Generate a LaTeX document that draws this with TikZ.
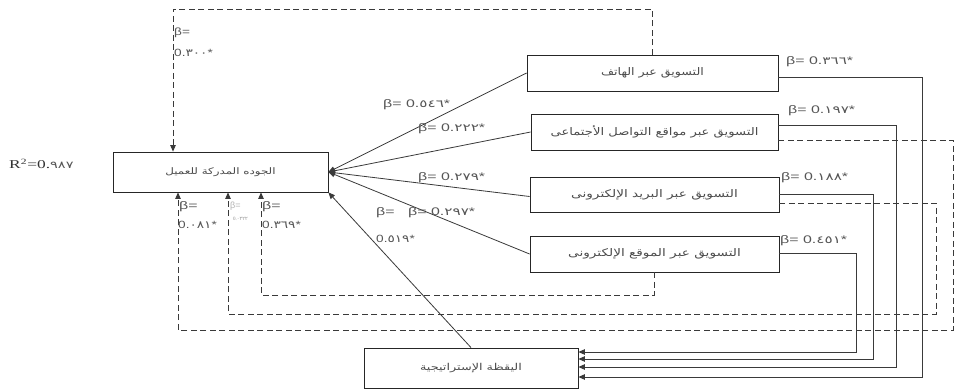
\documentclass[tikz,border=0pt]{standalone}
\usepackage{graphicx}
\usepackage{fontspec}
\setmainfont{Liberation Serif}
\setsansfont{Liberation Sans}
\newfontfamily\arabicfont[Script=Arabic]{DejaVu Sans}
\usetikzlibrary{arrows.meta}
\TeXXeTstate=1
\definecolor{ln}{HTML}{3A3A3A}
\definecolor{lb}{HTML}{555555}
% Arabic box text: size, horizontal stretch, text (text carries its own \beginR ... \endR)
\newcommand{\artxt}[3]{\scalebox{#2}[1]{\arabicfont\fontsize{#1}{#1}\selectfont #3}}
% Arabic-Indic digits inside labels
\newcommand{\adig}[1]{{\arabicfont\fontsize{10.5}{11}\selectfont #1}}
% beta labels, stretched
\newcommand{\blab}[1]{\scalebox{1.45}[1]{\sffamily\fontsize{11}{12}\selectfont #1}}
\newcommand{\slabt}[1]{\scalebox{1.3}[1]{\sffamily\fontsize{10.5}{11}\selectfont #1}}
\begin{document}
\begin{tikzpicture}[x=1pt,y=-1pt,
  box/.style={draw=black!85, line width=0.8pt, inner sep=0pt, fill=white, text=black!70},
  sol/.style={draw=ln, line width=0.8pt},
  solar/.style={sol, -{Triangle[length=6.5pt,width=5.5pt]}},
  dsh/.style={draw=ln, line width=0.8pt, dash pattern=on 6pt off 3.5pt, -{Triangle[length=6.5pt,width=5.5pt]}},
  lab/.style={anchor=west, inner sep=0pt, text=lb}]
\useasboundingbox (0,0) rectangle (954,391);
\fill[white] (0,0) rectangle (954,391);

% boxes
\node[box, minimum width=215pt, minimum height=40pt] (main) at (220.5,172) {\artxt{9}{1.32}{\beginR الجوده المدركة للعميل\endR}};
\node[box, minimum width=251pt, minimum height=36pt] (phone) at (652.5,73) {\artxt{10.5}{1.2}{\beginR التسويق عبر الهاتف\endR}};
\node[box, minimum width=247pt, minimum height=36pt] (social) at (654.5,132) {\artxt{10.5}{1.25}{\beginR التسويق عبر مواقع التواصل الأجتماعى\endR}};
\node[box, minimum width=249pt, minimum height=35pt] (email) at (654.5,194.5) {\artxt{10.5}{1.3}{\beginR التسويق عبر البريد الإلكترونى\endR}};
\node[box, minimum width=249pt, minimum height=36pt] (web) at (654.5,254) {\artxt{10.5}{1.3}{\beginR التسويق عبر الموقع الإلكترونى\endR}};
\node[box, minimum width=214pt, minimum height=40pt] (strat) at (471,368) {\artxt{9.5}{1.35}{\beginR اليقظة الإستراتيجية\endR}};

% R2
\node[anchor=west, inner sep=0pt, text=black!80] (r2) at (9,164) {\scalebox{1.45}[1]{\fontsize{12}{13}\selectfont R\textsuperscript{2}=0.{\arabicfont\fontsize{10}{11}\selectfont\color{lb}٩٨٧}}};

% coordinates for routes
\coordinate (t1) at (173,9);
\coordinate (c1) at (953,140);
\coordinate (b1) at (178,330);
\coordinate (e1) at (936,203);
\coordinate (b2) at (228,314);
\coordinate (b3) at (261,295);
\coordinate (p1) at (922,77);
\coordinate (p2) at (922,377);
\coordinate (s1) at (896,125);
\coordinate (s2) at (896,367);
\coordinate (m1) at (873,194);
\coordinate (m2) at (873,359);
\coordinate (w1) at (856,253);
\coordinate (w2) at (856,352);

% dashed feedback routes
\draw[dsh] (phone.north) |- (t1) -- (t1 |- main.north);
\draw[dsh] (social.east |- c1) -- (c1) |- (b1) -- (b1 |- main.south);
\draw[dsh] (email.east |- e1) -- (e1) |- (b2) -- (b2 |- main.south);
\draw[dsh] (web.south) |- (b3) -- (b3 |- main.south);

% solid routes to strategic box
\draw[solar] (phone.east |- p1) -| (p2) -- (strat.east |- p2);
\draw[solar] (social.east |- s1) -| (s2) -- (strat.east |- s2);
\draw[solar] (email.east |- m1) -| (m2) -- (strat.east |- m2);
\draw[solar] (web.east |- w1) -| (w2) -- (strat.east |- w2);

% solid lines into main box
\draw[solar] (phone.west) -- (main.east);
\draw[solar] (social.west) -- (main.east);
\draw[solar] ([yshift=-2pt]email.west) -- (main.east);
\draw[solar] (web.west) -- (main.east);
\draw[solar] (strat.north) -- (main.south east);

% labels right
\node[lab] (l1) at (786,62) {\blab{β= 0.\adig{٣٦٦}*}};
\node[lab] (l2) at (788,111) {\blab{β= 0.\adig{١٩٧}*}};
\node[lab] (l3) at (781,178) {\blab{β= 0.\adig{١٨٨}*}};
\node[lab] (l4) at (780,241) {\blab{β= 0.\adig{٤٥١}*}};
% labels on inbound lines
\node[lab] (l5) at (383,105) {\blab{β= 0.\adig{٥٤٦}*}};
\node[lab] (l6) at (418,129) {\blab{β= 0.\adig{٢٢٢}*}};
\node[lab] (l7) at (418,178) {\blab{β= 0.\adig{٢٧٩}*}};
\node[lab] (l8) at (408,213) {\blab{β= 0.\adig{٢٩٧}*}};
\node[lab] (l9) at (376,213) {\blab{β=}};
\node[lab] (l10) at (376,239) {\slabt{0.\adig{٥١٩}*}};
% top-left
\node[lab] (l11) at (174,33) {\slabt{β=}};
\node[lab] (l12) at (174,53) {\slabt{0.\adig{٣٠٠}*}};
% bottom of main box
\node[lab] (l13) at (179,207) {\blab{β=}};
\node[lab] (l14) at (178,225) {\slabt{0.\adig{٠٨١}*}};
\node[lab] (l15) at (262,207) {\blab{β=}};
\node[lab] (l16) at (262,225) {\slabt{0.\adig{٣٦٩}*}};
\node[anchor=west, inner sep=0pt, text=black!30] (l17) at (230,206) {\sffamily\fontsize{9}{9}\selectfont β=};
\node[anchor=west, inner sep=0pt, text=black!45] (l18) at (233,219) {\fontsize{5}{5}\selectfont 0.{\arabicfont ٠٢٢٢}};
\end{tikzpicture}
\end{document}
